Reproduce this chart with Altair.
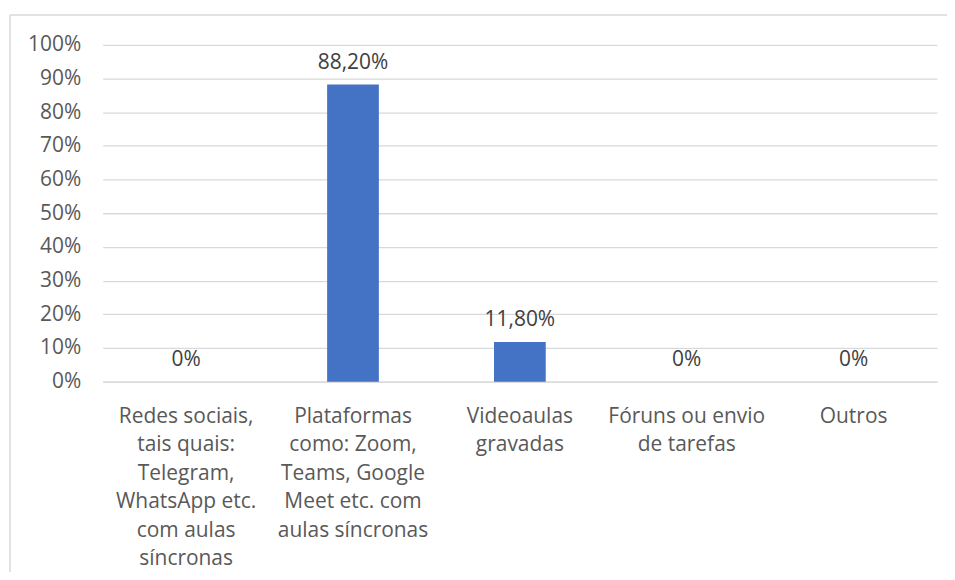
import altair as alt
import pandas as pd

categories = [
    "Redes sociais,\ntais quais:\nTelegram,\nWhatsApp etc.\ncom aulas\nsíncronas",
    "Plataformas\ncomo: Zoom,\nTeams, Google\nMeet etc. com\naulas síncronas",
    "Videoaulas\ngravadas",
    "Fóruns ou envio\nde tarefas",
    "Outros",
]
values = [0.0, 0.882, 0.118, 0.0, 0.0]
value_labels = ["0%", "88,20%", "11,80%", "0%", "0%"]
y_domain = [0, 1]
y_tick_count = 10

df = pd.DataFrame({"cat": categories, "val": values, "lab": value_labels})

FONT = "Open Sans"
GRID = "#D9D9D9"
FS = 21

x_scale = alt.Scale(paddingInner=0.69, paddingOuter=0.345)
y_scale = alt.Scale(domain=y_domain, nice=False)

x_axis = alt.Axis(
    title=None,
    labelAngle=0,
    labelExpr="split(datum.label, '\\n')",
    labelFont=FONT,
    labelFontSize=FS,
    labelColor="#595959",
    labelLineHeight=28.5,
    labelPadding=24,
    labelLimit=300,
    ticks=False,
    domainColor=GRID,
    domainWidth=1.3,
)
y_axis = alt.Axis(
    title=None,
    tickCount=y_tick_count,
    format=".0%",
    labelFont=FONT,
    labelFontSize=FS,
    labelColor="#595959",
    labelPadding=22,
    labelOverlap=False,
    ticks=False,
    domain=False,
    grid=True,
    gridColor=GRID,
    gridWidth=1.3,
)

x_enc = alt.X("cat:N", sort=categories, scale=x_scale, axis=x_axis)
y_enc = alt.Y("val:Q", scale=y_scale, axis=y_axis)

base = alt.Chart(df).encode(x=x_enc, y=y_enc)
bars = base.mark_bar(color="#4472C4")
texts = base.mark_text(
    font=FONT, fontSize=FS, color="#404040", baseline="alphabetic", dy=-16
).encode(text="lab:N")

border_data = alt.Data(values=[{"a": 1}])
top_border = alt.Chart(border_data).mark_rule(color=GRID, strokeWidth=1.5).encode(
    x=alt.value(-93), x2=alt.value(860), y=alt.value(-30)
)
left_border = alt.Chart(border_data).mark_rule(color=GRID, strokeWidth=1.5).encode(
    x=alt.value(-93), y=alt.value(-30), y2=alt.value(600)
)

chart = (
    alt.layer(bars, texts, top_border, left_border)
    .properties(
        width=837,
        height=338,
        autosize=alt.AutoSizeParams(type="none"),
        padding={"left": 95, "top": 36, "right": 10, "bottom": 190},
    )
    .configure_view(stroke=None)
    .configure_axisY(tickCount=y_tick_count)
)

chart.save("out.html", embed_options={"renderer": "svg", "actions": False})
